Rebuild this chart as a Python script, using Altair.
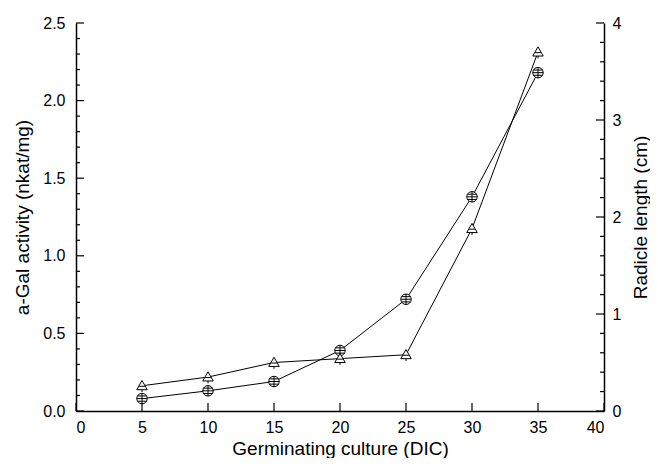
import altair as alt
import pandas as pd

# ---- data ----
days = [5, 10, 15, 20, 25, 30, 35]
agal = [0.08, 0.13, 0.19, 0.39, 0.72, 1.38, 2.18]          # a-Gal activity (nkat/mg), left axis
radicle = [0.26, 0.35, 0.50, 0.54, 0.58, 1.88, 3.70]       # Radicle length (cm), right axis

x_ticks = [0, 5, 10, 15, 20, 25, 30, 35, 40]
left_major = [0.0, 0.5, 1.0, 1.5, 2.0, 2.5]
left_minor = [0.1, 0.2, 0.3, 0.4, 0.6, 0.7, 0.8, 0.9, 1.1, 1.2, 1.3, 1.4,
              1.6, 1.7, 1.8, 1.9, 2.1, 2.2, 2.3, 2.4]
right_major = [0, 1, 2, 3, 4]
right_minor = [0.2, 0.4, 0.6, 0.8, 1.2, 1.4, 1.6, 1.8, 2.2, 2.4, 2.6, 2.8,
               3.2, 3.4, 3.6, 3.8]

W, H = 528, 388
FONT = "Liberation Sans"

df = pd.DataFrame({"day": days, "agal": agal, "radicle": radicle})

xscale = alt.Scale(domain=[0, 40], nice=False, zero=False)
yl = alt.Scale(domain=[0, 2.5], nice=False)
yr = alt.Scale(domain=[0, 4], nice=False)

circle_path = ("M-1,0A1,1,0,1,1,1,0A1,1,0,1,1,-1,0Z"
               "M-1,0L1,0M0,-1L0,1M-0.87,-0.5L0.87,-0.5M-0.87,0.5L0.87,0.5")
tri_path = "M0,-1L1,0.75L-1,0.75ZM-0.55,0.1L0.55,0.1M0,0.75L0,1.2"

x_axis = alt.Axis(values=x_ticks, title="Germinating culture (DIC)",
                  format="d", ticks=False, tickSize=0, labelPadding=8,
                  titlePadding=4, grid=False)
left_axis = alt.Axis(values=left_major, format=".1f", title="a-Gal activity (nkat/mg)",
                     ticks=False, tickSize=0, labelPadding=11, titlePadding=10, grid=False)
right_axis = alt.Axis(values=right_major, format="d", title="Radicle length (cm)",
                      orient="right", ticks=False, tickSize=0, labelPadding=8,
                      titlePadding=11, titleAngle=270, titleBaseline="top", grid=False)

x_enc = alt.X("day:Q", scale=xscale, axis=x_axis)

# ---- left-scale layer ----
base_l = alt.Chart(df).encode(x=x_enc, y=alt.Y("agal:Q", scale=yl, axis=left_axis))
line_l = base_l.mark_line(color="black", strokeWidth=1)
pts_l = base_l.mark_point(shape=circle_path, size=110, filled=True, fill="white",
                          stroke="black", strokeWidth=1, opacity=1)

lmaj = alt.Chart(pd.DataFrame({"v": left_major})).mark_rule(color="black", strokeWidth=1.2).encode(
    y=alt.Y("v:Q", scale=yl, axis=left_axis), x=alt.value(0), x2=alt.value(8))
lmin = alt.Chart(pd.DataFrame({"v": left_minor})).mark_rule(color="black", strokeWidth=1.2).encode(
    y=alt.Y("v:Q", scale=yl, axis=left_axis), x=alt.value(0), x2=alt.value(4))
xmaj = alt.Chart(pd.DataFrame({"v": x_ticks})).mark_rule(color="black", strokeWidth=1.2).encode(
    x=alt.X("v:Q", scale=xscale, axis=x_axis), y=alt.value(H), y2=alt.value(H - 8))

layer_l = alt.layer(line_l, pts_l, lmaj, lmin, xmaj)

# ---- right-scale layer ----
base_r = alt.Chart(df).encode(x=x_enc, y=alt.Y("radicle:Q", scale=yr, axis=right_axis))
line_r = base_r.mark_line(color="black", strokeWidth=1)
pts_r = base_r.mark_point(shape=tri_path, size=110, filled=True, fill="white",
                          stroke="black", strokeWidth=1, opacity=1)

rmaj = alt.Chart(pd.DataFrame({"v": right_major})).mark_rule(color="black", strokeWidth=1.2).encode(
    y=alt.Y("v:Q", scale=yr, axis=right_axis), x=alt.value(W), x2=alt.value(W - 8))
rmin = alt.Chart(pd.DataFrame({"v": right_minor})).mark_rule(color="black", strokeWidth=1.2).encode(
    y=alt.Y("v:Q", scale=yr, axis=right_axis), x=alt.value(W), x2=alt.value(W - 4))

layer_r = alt.layer(line_r, pts_r, rmaj, rmin)

chart = alt.layer(layer_l, layer_r).resolve_scale(y="independent").properties(
    width=W, height=H,
    autosize=alt.AutoSizeParams(type="none"),
    padding={"left": 68, "top": 15, "right": 46, "bottom": 47},
    background="white",
).configure_view(stroke=None).configure_axis(
    labelFont=FONT, titleFont=FONT, labelFontSize=16, titleFontSize=19,
    titleFontWeight="normal", labelColor="black", titleColor="black",
    domainColor="black", domainWidth=1.5,
)

chart.save("out.html", embed_options={"renderer": "svg", "actions": False})
